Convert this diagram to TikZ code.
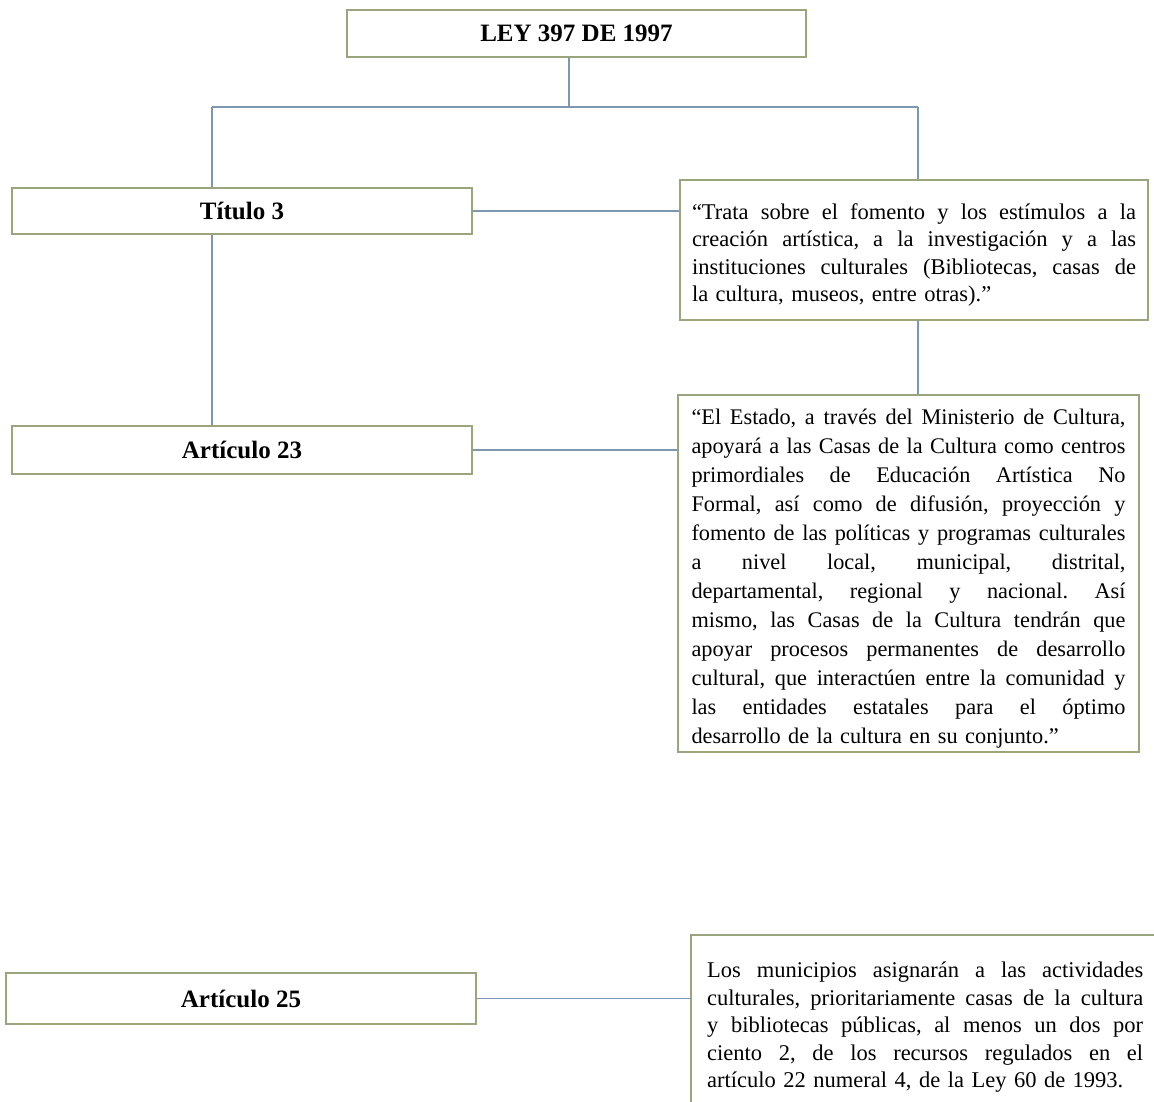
\documentclass[tikz,border=0pt]{standalone}
\usepackage{fontspec}
\setmainfont{Liberation Serif}
\usetikzlibrary{calc}
\definecolor{boxc}{RGB}{155,165,125}
\definecolor{linec}{RGB}{125,150,178}
\frenchspacing
\newcommand\jl[2]{\makebox[#1][s]{\frenchspacing\spaceskip=0pt\xspaceskip=0pt #2}\\}
\newcommand\topstrut{\rule{0pt}{26pt}}
\begin{document}
\begin{tikzpicture}[x=1pt,y=-1pt,
 frame/.style={draw=boxc,line width=1.4pt},
 link/.style={draw=linec,line width=1.4pt},
 lbl/.style={frame,fill=white,inner sep=0pt,font=\bfseries\fontsize{25}{29}\selectfont,minimum width=460pt,minimum height=47pt},
 para/.style={frame,fill=white,align=left,inner ysep=0pt}]
\fill[white] (0,0) rectangle (1154,1101);
\useasboundingbox (0,0) rectangle (1154,1101);
\clip (0,0) rectangle (1154,1101);

\node[lbl, minimum width=459pt] (ley) at (576.5,33.5) {LEY 397 DE 1997};
\node[lbl, minimum height=46pt] (t3) at (242,211) {Título 3};
\node[lbl, minimum height=48pt] (a23) at (242,450) {Artículo 23};
\node[lbl, minimum width=470pt, minimum height=51pt] (a25) at (241,998.5) {Artículo 25};

\node[para, text width=444pt, inner xsep=12pt, minimum height=140pt,
      font=\fontsize{22.5}{27.5}\selectfont] (trata) at (914,250) {%
\jl{444pt}{\topstrut“Trata sobre el fomento y los estímulos a la}%
\jl{444pt}{creación artística, a la investigación y a las}%
\jl{444pt}{instituciones culturales (Bibliotecas, casas de}%
la cultura, museos, entre otras).”};

\node[para, text width=434pt, inner xsep=13.5pt, minimum height=357pt,
      font=\fontsize{22.3}{29}\selectfont] (a23t) at (908.5,573.5) {%
\jl{434pt}{\topstrut“El Estado, a través del Ministerio de Cultura,}%
\jl{434pt}{apoyará a las Casas de la Cultura como centros}%
\jl{434pt}{primordiales de Educación Artística No}%
\jl{434pt}{Formal, así como de difusión, proyección y}%
\jl{434pt}{fomento de las políticas y programas culturales}%
\jl{434pt}{a nivel local, municipal, distrital,}%
\jl{434pt}{departamental, regional y nacional. Así}%
\jl{434pt}{mismo, las Casas de la Cultura tendrán que}%
\jl{434pt}{apoyar procesos permanentes de desarrollo}%
\jl{434pt}{cultural, que interactúen entre la comunidad y}%
\jl{434pt}{las entidades estatales para el óptimo}%
desarrollo de la cultura en su conjunto.”};

\node[anchor=north west, inner sep=0pt, text width=436pt, align=left,
      font=\fontsize{22.5}{27.5}\selectfont] (a25t) at (707,962) {%
\jl{436pt}{Los municipios asignarán a las actividades}%
\jl{436pt}{culturales, prioritariamente casas de la cultura}%
\jl{436pt}{y bibliotecas públicas, al menos un dos por}%
\jl{436pt}{ciento 2, de los recursos regulados en el}%
artículo 22 numeral 4, de la Ley 60 de 1993.};
\coordinate (a25f) at ($(a25t.north west)+(-16,-27)$);
\draw[frame] (a25f) rectangle ++(520,220);

\coordinate (j0) at (569,107);
\coordinate (jl) at (212,107);
\coordinate (jr) at (918,107);
\draw[link] (ley.south -| j0) -- (j0);
\draw[link] (jl) -- (jr);
\draw[link] (jl) -- (t3.north -| jl);
\draw[link] (jr) -- (trata.north -| jr);
\draw[link] (t3.east) -- (t3.east -| trata.west);
\draw[link] (t3.south -| jl) -- (a23.north -| jl);
\draw[link] (trata.south -| jr) -- (a23t.north -| jr);
\draw[link] (a23.east) -- (a23.east -| a23t.west);
\draw[link] (a25.east) -- (a25.east -| a25f);
\end{tikzpicture}
\end{document}
